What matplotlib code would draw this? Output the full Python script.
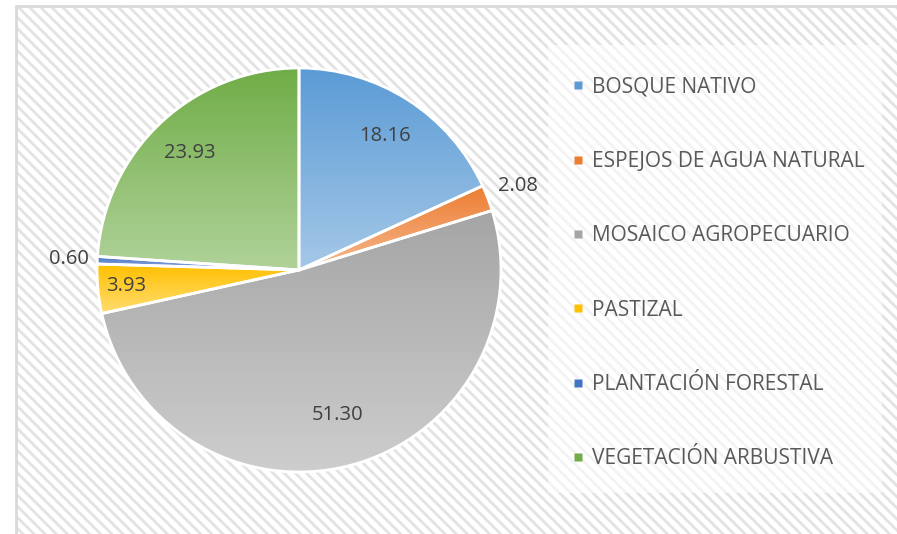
import matplotlib.pyplot as plt
import numpy as np
from matplotlib.colors import to_rgb
from matplotlib.lines import Line2D
from matplotlib.patches import Rectangle

plt.rcParams['font.family'] = ['Open Sans', 'DejaVu Sans']
plt.rcParams['hatch.linewidth'] = 2.0

categories = ['BOSQUE NATIVO', 'ESPEJOS DE AGUA NATURAL', 'MOSAICO AGROPECUARIO',
              'PASTIZAL', 'PLANTACIÓN FORESTAL', 'VEGETACIÓN ARBUSTIVA']
values = [18.16, 2.08, 51.30, 3.93, 0.60, 23.93]
value_labels = ['18.16', '2.08', '51.30', '3.93', '0.60', '23.93']
colors = ['#5b9bd5', '#ed7d31', '#a5a5a5', '#ffc000', '#4472c4', '#70ad47']
# how far from the centre each label sits (fraction of radius)
label_radius = [0.79, 1.16, 0.74, 0.86, 1.14, 0.79]

W, H = 897, 534
fig = plt.figure(figsize=(W / 100, H / 100), dpi=100)
fig.patch.set_facecolor('white')

# hatched chart area (hatch is drawn in the edge colour)
bg = Rectangle((16 / W, 0), 1, 1 - 6 / H, transform=fig.transFigure,
               facecolor='white', edgecolor='#e3e3e3', hatch='\\\\\\',
               linewidth=0, zorder=-3)
fig.patches.append(bg)
border = Rectangle((16 / W, -0.01), 1, 1.01 - 6 / H, transform=fig.transFigure,
                   facecolor='none', edgecolor='#d9d9d9', linewidth=2.0, zorder=-2)
fig.patches.append(border)

# legend panel, lighter than the hatch
lg_box = Rectangle((548 / W, 1 - 493 / H), (882 - 548) / W, (493 - 45) / H,
                   transform=fig.transFigure, facecolor='white', alpha=0.6,
                   edgecolor='none', zorder=-1)
fig.patches.append(lg_box)

cx, cy, r = 299, 270, 202
ax = fig.add_axes([(cx - r) / W, (H - cy - r) / H, 2 * r / W, 2 * r / H])
ax.set_facecolor('none')
ax.set_zorder(1)

wedges, _ = ax.pie(values, startangle=90, counterclock=False, radius=1,
                   wedgeprops=dict(edgecolor='white', linewidth=2))

# vertical gradient: base colour on top, lighter towards bottom
t = np.linspace(0, 1, 256)[:, None]
for i, (w, c) in enumerate(zip(wedges, colors)):
    w.set_facecolor('none')
    w.set_zorder(3)
    base = np.array(to_rgb(c))
    light = base + (1 - base) * 0.45
    img = light[None, None, :] * (1 - t[:, :, None]) + base[None, None, :] * t[:, :, None]
    img = np.repeat(img, 2, axis=1)
    ext = w.get_path().get_extents()
    im = ax.imshow(img, extent=[ext.x0, ext.x1, ext.y0, ext.y1], origin='lower',
                   aspect='auto', zorder=2, interpolation='bilinear')
    im.set_clip_path(w)

    mid = np.deg2rad((w.theta1 + w.theta2) / 2)
    rr = label_radius[i]
    ax.text(rr * np.cos(mid), rr * np.sin(mid), value_labels[i], ha='center',
            va='center', fontsize=14.5, color='#404040', zorder=5, clip_on=False)

ax.set_xlim(-1, 1)
ax.set_ylim(-1, 1)
ax.set_aspect('equal')
ax.axis('off')

handles = [Line2D([], [], marker='s', linestyle='none', markersize=6,
                  markerfacecolor=c, markeredgecolor='none') for c in colors]
leg = fig.legend(handles, categories, loc='center left',
                 bbox_to_anchor=(563 / W, 1 - 273 / H), frameon=False,
                 fontsize=15, labelcolor='#595959', handlelength=0.6,
                 handletextpad=0.4, labelspacing=2.56, borderaxespad=0)
leg.set_zorder(2)

fig.savefig('out.png', dpi=100)
